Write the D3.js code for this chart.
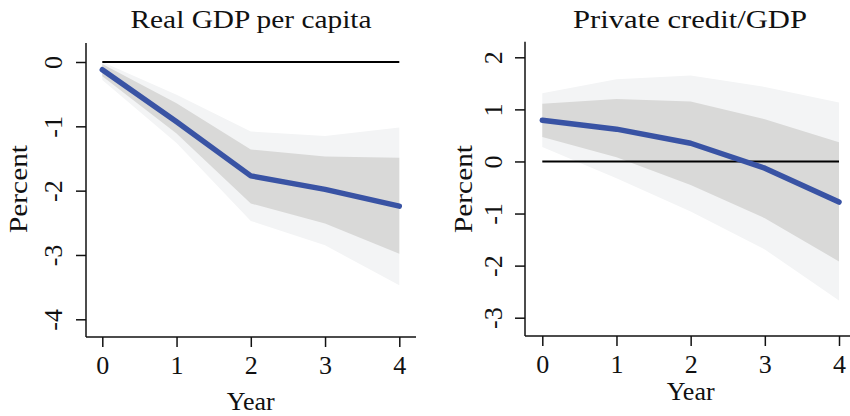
<!DOCTYPE html>
<html>
<head>
<meta charset="utf-8">
<script src="https://cdn.jsdelivr.net/npm/d3@7"></script>
<style>
  body { margin: 0; background: #fff; }
  text { font-family: "Liberation Serif", "DejaVu Serif", serif; fill: #111; }
</style>
</head>
<body>
<div class="board"></div>
<script>
// data
var years = [0, 1, 2, 3, 4];

var gdpMean  = [-0.12, -0.93, -1.77, -1.98, -2.24];
var gdpHi68  = [-0.03, -0.64, -1.36, -1.47, -1.49];
var gdpLo68  = [-0.22, -1.11, -2.20, -2.51, -2.98];
var gdpHi90  = [0.00, -0.51, -1.08, -1.15, -1.02];
var gdpLo90  = [-0.28, -1.26, -2.47, -2.85, -3.47];
var gdpTicks = [0, -1, -2, -3, -4];

var credMean  = [0.79, 0.62, 0.35, -0.13, -0.78];
var credHi68  = [1.11, 1.20, 1.15, 0.81, 0.37];
var credLo68  = [0.47, 0.08, -0.45, -1.09, -1.92];
var credHi90  = [1.31, 1.58, 1.65, 1.43, 1.13];
var credLo90  = [0.28, -0.32, -0.96, -1.69, -2.67];
var credTicks = [2, 1, 0, -1, -2, -3];

var svg = d3.select('.board')
  .append('svg')
  .attr('width', 850)
  .attr('height', 416);

var drawPanel = function(opt) {
  var x = d3.scaleLinear().domain([0, 4]).range([opt.x0, opt.x1]);
  var y = d3.scaleLinear().domain(opt.domain).range([opt.yTop, opt.yBot]);
  var g = svg.append('g');

  var band = function(lo, hi) {
    return d3.area()
      .x(function(d, i) { return x(years[i]); })
      .y0(function(d, i) { return y(lo[i]); })
      .y1(function(d, i) { return y(hi[i]); })(years);
  };

  g.append('path').attr('d', band(opt.lo90, opt.hi90)).attr('fill', '#f3f4f5');
  g.append('path').attr('d', band(opt.lo68, opt.hi68)).attr('fill', '#d9d9d8');

  // zero line
  g.append('line')
    .attr('x1', x(0)).attr('x2', x(4))
    .attr('y1', y(0)).attr('y2', y(0))
    .attr('stroke', '#000').attr('stroke-width', 2);

  g.append('path')
    .datum(opt.mean)
    .attr('d', d3.line()
      .x(function(d, i) { return x(years[i]); })
      .y(function(d) { return y(d); }))
    .attr('fill', 'none')
    .attr('stroke', '#3953a4')
    .attr('stroke-width', 5.5)
    .attr('stroke-linecap', 'round')
    .attr('stroke-linejoin', 'round');

  // axes
  var fmt = function(d) { return String(d); };  // plain hyphen, like the original

  var yAxis = g.append('g')
    .attr('transform', 'translate(' + opt.axisX + ',0)')
    .call(d3.axisLeft(y).tickValues(opt.ticks).tickSize(10).tickFormat(fmt));
  yAxis.select('.domain').attr('d', 'M0,' + opt.axisTop + 'V' + opt.axisY);
  yAxis.selectAll('line, path').attr('stroke', '#111').attr('stroke-width', 1.5);
  yAxis.selectAll('text')
    .attr('x', null).attr('y', null).attr('dy', null)
    .attr('transform', 'translate(' + (opt.yLabX - opt.axisX) + ',0) rotate(-90)')
    .attr('text-anchor', 'middle')
    .attr('dominant-baseline', 'central')
    .style('font-family', '"Liberation Serif", serif')
    .style('font-size', '26px')
    .attr('fill', '#111');

  var xAxis = g.append('g')
    .attr('transform', 'translate(0,' + opt.axisY + ')')
    .call(d3.axisBottom(x).tickValues(years).tickSize(10).tickFormat(fmt));
  xAxis.select('.domain').attr('d', 'M' + opt.axisX + ',0H' + opt.axisEnd);
  xAxis.selectAll('line, path').attr('stroke', '#111').attr('stroke-width', 1.5);
  xAxis.selectAll('text')
    .attr('y', 37).attr('dy', null)
    .style('font-family', '"Liberation Serif", serif')
    .style('font-size', '26px')
    .attr('fill', '#111');

  g.append('text')
    .attr('x', opt.titleX).attr('y', 28)
    .attr('text-anchor', 'middle')
    .attr('textLength', opt.titleLen)
    .attr('lengthAdjust', 'spacingAndGlyphs')
    .style('font-size', '25px')
    .text(opt.title);

  g.append('text')
    .attr('transform', 'translate(' + opt.pctX + ',189) rotate(-90)')
    .attr('text-anchor', 'middle')
    .attr('textLength', 88)
    .attr('lengthAdjust', 'spacingAndGlyphs')
    .style('font-size', '26px')
    .text('Percent');

  g.append('text')
    .attr('x', x(2)).attr('y', opt.yearY)
    .attr('text-anchor', 'middle')
    .style('font-size', '26px')
    .text('Year');
};

drawPanel({
  title: 'Real GDP per capita', titleX: 251, titleLen: 241,
  x0: 102.3, x1: 399.3, axisX: 86, axisY: 337, axisEnd: 416, axisTop: 43,
  yTop: 62, yBot: 319.3, domain: [0, -4],
  ticks: gdpTicks, yLabX: 53, pctX: 27, yearY: 410,
  mean: gdpMean, hi68: gdpHi68, lo68: gdpLo68, hi90: gdpHi90, lo90: gdpLo90
});

drawPanel({
  title: 'Private credit/GDP', titleX: 690, titleLen: 234,
  x0: 542.3, x1: 839, axisX: 525, axisY: 336, axisEnd: 850, axisTop: 41.7,
  yTop: 57.3, yBot: 317.7, domain: [2, -3],
  ticks: credTicks, yLabX: 493, pctX: 472, yearY: 400,
  mean: credMean, hi68: credHi68, lo68: credLo68, hi90: credHi90, lo90: credLo90
});
</script>
</body>
</html>
